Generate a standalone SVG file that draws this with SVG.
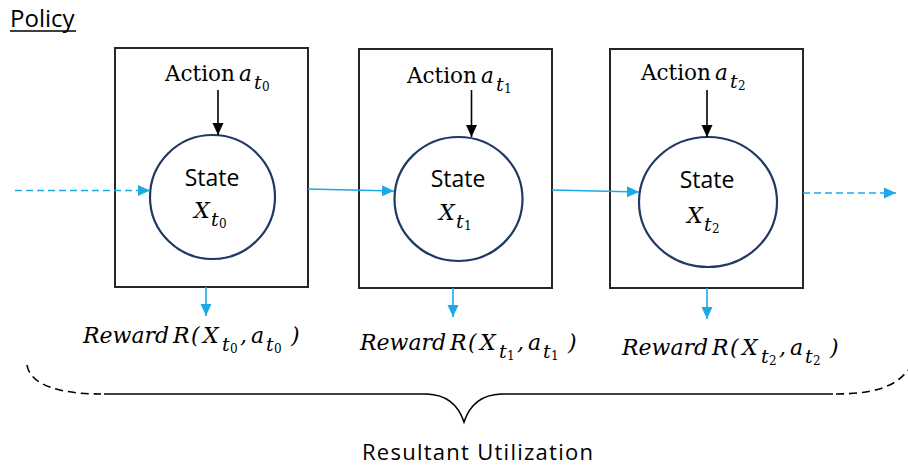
<svg xmlns="http://www.w3.org/2000/svg" width="908" height="466" viewBox="0 0 908 466">
<style>
.box{fill:#fff;stroke:#262626;stroke-width:2}
.st{fill:#fff;stroke:#1F3864;stroke-width:2.2}
.sans{font-family:"Open Sans","Liberation Sans",sans-serif;fill:#000}
.ser{font-family:"DejaVu Serif","Liberation Serif",serif;fill:#000}
.it{font-style:italic}
.up{font-style:normal}
.sub{font-size:19px}
.ss{font-size:12px}
.blue{stroke:#1CA9E6;stroke-width:1.6;fill:none}
.dash{stroke-dasharray:7 4}
.blk{stroke:#000;stroke-width:1.6;fill:none}
</style>
<defs>
<marker id="ab" markerUnits="userSpaceOnUse" markerWidth="13" markerHeight="12" refX="12" refY="5.5" orient="auto"><path d="M0,0 L12,5.5 L0,11 z" fill="#1CA9E6"/></marker>
<marker id="ak" markerUnits="userSpaceOnUse" markerWidth="13" markerHeight="12" refX="12" refY="5.5" orient="auto"><path d="M0,0 L12,5.5 L0,11 z" fill="#000"/></marker>
</defs>
<rect width="908" height="466" fill="#fff"/>
<g id="policy">
<text class="sans" x="10" y="27" font-size="24">Policy</text>
<line x1="10" y1="31" x2="76" y2="31" stroke="#000" stroke-width="1.5"/>
</g>
<g id="step0">
<rect class="box" x="115" y="48" width="193" height="239"/>
<ellipse class="st" cx="212.5" cy="197" rx="62.5" ry="62"/>
<text class="ser" font-size="21.5"><tspan x="165" y="81">Action</tspan><tspan class="it" x="239" y="81">a</tspan><tspan class="it sub" x="254" y="89">t</tspan><tspan class="ss" x="262" y="91">0</tspan></text>
<text class="sans" x="212" y="186" font-size="23" text-anchor="middle">State</text>
<text class="ser" font-size="22"><tspan class="it" x="194" y="218">X</tspan><tspan class="it sub" x="211" y="226">t</tspan><tspan class="ss" x="219" y="228">0</tspan></text>
</g>
<g id="step1">
<rect class="box" x="359" y="49" width="193" height="239"/>
<ellipse class="st" cx="458.5" cy="199" rx="64" ry="62"/>
<text class="ser" font-size="21.5"><tspan x="407" y="83">Action</tspan><tspan class="it" x="481" y="83">a</tspan><tspan class="it sub" x="496" y="91">t</tspan><tspan class="ss" x="504" y="93">1</tspan></text>
<text class="sans" x="458" y="187" font-size="23" text-anchor="middle">State</text>
<text class="ser" font-size="22"><tspan class="it" x="439" y="220">X</tspan><tspan class="it sub" x="456" y="228">t</tspan><tspan class="ss" x="464" y="230">1</tspan></text>
</g>
<g id="step2">
<rect class="box" x="610" y="49" width="193" height="239"/>
<ellipse class="st" cx="708" cy="202" rx="69" ry="65"/>
<text class="ser" font-size="21.5"><tspan x="641" y="80">Action</tspan><tspan class="it" x="715" y="80">a</tspan><tspan class="it sub" x="730" y="88">t</tspan><tspan class="ss" x="738" y="90">2</tspan></text>
<text class="sans" x="707" y="188" font-size="23" text-anchor="middle">State</text>
<text class="ser" font-size="22"><tspan class="it" x="687" y="223">X</tspan><tspan class="it sub" x="704" y="231">t</tspan><tspan class="ss" x="712" y="233">2</tspan></text>
</g>
<g id="rewards">
<text class="ser it" font-size="22"><tspan x="83" y="343">Reward</tspan><tspan x="173" y="343">R</tspan><tspan x="191" y="343">(</tspan><tspan x="203" y="343">X</tspan><tspan class="sub" x="222" y="351">t</tspan><tspan class="up ss" x="230" y="353">0</tspan><tspan x="240" y="343">,</tspan><tspan x="251" y="343">a</tspan><tspan class="sub" x="266" y="351">t</tspan><tspan class="up ss" x="274" y="353">0</tspan><tspan x="291" y="343">)</tspan></text>
<text class="ser it" font-size="22"><tspan x="360" y="350">Reward</tspan><tspan x="450" y="350">R</tspan><tspan x="468" y="350">(</tspan><tspan x="480" y="350">X</tspan><tspan class="sub" x="499" y="358">t</tspan><tspan class="up ss" x="507" y="360">1</tspan><tspan x="517" y="350">,</tspan><tspan x="528" y="350">a</tspan><tspan class="sub" x="543" y="358">t</tspan><tspan class="up ss" x="551" y="360">1</tspan><tspan x="568" y="350">)</tspan></text>
<text class="ser it" font-size="22"><tspan x="622" y="355">Reward</tspan><tspan x="712" y="355">R</tspan><tspan x="730" y="355">(</tspan><tspan x="742" y="355">X</tspan><tspan class="sub" x="761" y="363">t</tspan><tspan class="up ss" x="769" y="365">2</tspan><tspan x="779" y="355">,</tspan><tspan x="790" y="355">a</tspan><tspan class="sub" x="805" y="363">t</tspan><tspan class="up ss" x="813" y="365">2</tspan><tspan x="830" y="355">)</tspan></text>
</g>
<g id="connectors">
<line class="blk" x1="218" y1="90" x2="218" y2="135" marker-end="url(#ak)"/>
<line class="blk" x1="471.5" y1="90" x2="471.5" y2="137" marker-end="url(#ak)"/>
<line class="blk" x1="707" y1="90" x2="707" y2="137" marker-end="url(#ak)"/>
<line class="blue dash" x1="15" y1="190.5" x2="150" y2="190.5" marker-end="url(#ab)"/>
<line class="blue" x1="308" y1="189" x2="394" y2="191" marker-end="url(#ab)"/>
<line class="blue" x1="552" y1="190" x2="639" y2="192" marker-end="url(#ab)"/>
<line class="blue dash" x1="803" y1="193" x2="896" y2="193" marker-end="url(#ab)"/>
<line class="blue" x1="206" y1="287" x2="206" y2="316" marker-end="url(#ab)"/>
<line class="blue" x1="453" y1="288" x2="453" y2="317" marker-end="url(#ab)"/>
<line class="blue" x1="707" y1="288" x2="707" y2="319" marker-end="url(#ab)"/>
</g>
<g id="brace">
<path d="M27,365 C30,385 60,394 101,394" fill="none" stroke="#000" stroke-width="1.6" stroke-dasharray="8 5"/>
<path d="M104,394 L427,394 Q455,395 464,422 Q473,395 501,394 L833,394" fill="none" stroke="#000" stroke-width="1.6"/>
<path d="M836,394 C870,394 895,388 908,370" fill="none" stroke="#000" stroke-width="1.6" stroke-dasharray="8 5"/>
<text class="sans" x="362" y="460" font-size="22" textLength="231">Resultant Utilization</text>
</g>
</svg>
